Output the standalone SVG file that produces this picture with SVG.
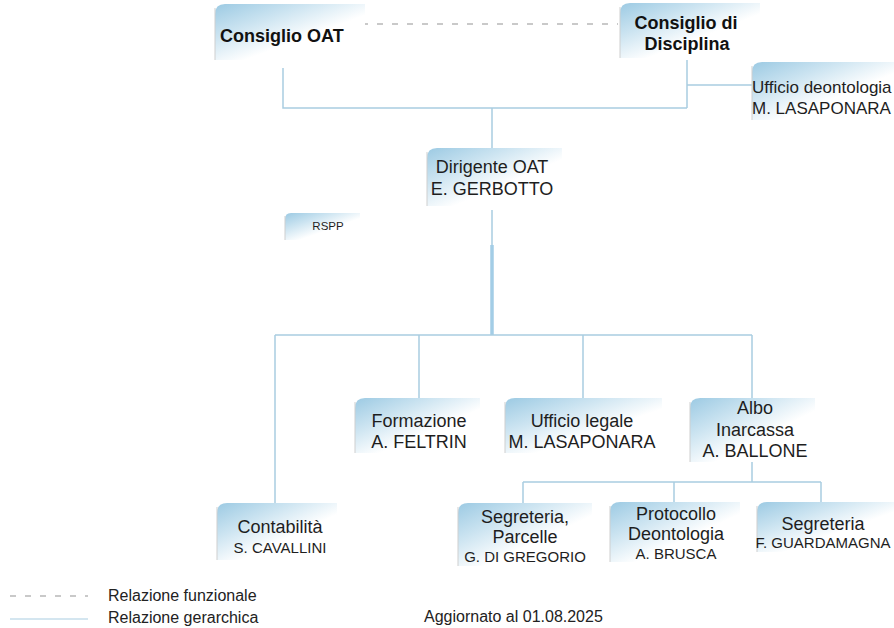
<svg xmlns="http://www.w3.org/2000/svg" width="894" height="628" viewBox="0 0 894 628">
<defs>
<linearGradient id="nodeFill" x1="0" y1="0" x2="1" y2="1">
<stop offset="0" stop-color="#9ccae3"/>
<stop offset="0.3" stop-color="#cce4f1"/>
<stop offset="0.6" stop-color="#ffffff"/>
</linearGradient>
<style>
.box{fill:url(#nodeFill);stroke:none}
.edge{stroke:#cfcfcf;stroke-width:1;fill:none}
.t{font-family:"Liberation Sans",Arial,sans-serif;font-size:18px;fill:#1e1e1e;text-anchor:middle}
.b{font-weight:bold;fill:#111}
.s{font-size:15px}
.conn{stroke:#a9cde1;stroke-width:1.5;fill:none}
.thick{stroke:#a3cde6;stroke-width:3.5;fill:none}
.func{stroke:#b8b8b8;stroke-width:1.3;stroke-dasharray:6 9;fill:none}
.leg{font-family:"Liberation Sans",Arial,sans-serif;font-size:16px;fill:#222}
</style>
</defs>
<rect width="894" height="628" fill="#ffffff"/>

<g id="connectors">
<line class="func" x1="347" y1="24" x2="618" y2="24"/>
<polyline class="conn" points="283,68 283,108 687,108"/>
<line class="conn" x1="687" y1="60" x2="687" y2="108"/>
<line class="conn" x1="687" y1="85" x2="752" y2="85"/>
<line class="conn" x1="492" y1="108" x2="492" y2="148"/>
<line class="conn" x1="492" y1="210" x2="492" y2="245"/>
<line class="thick" x1="492" y1="245" x2="492" y2="335"/>
<line class="conn" x1="275" y1="335" x2="752" y2="335"/>
<line class="conn" x1="275" y1="335" x2="275" y2="503"/>
<line class="conn" x1="419" y1="335" x2="419" y2="398"/>
<line class="conn" x1="583" y1="335" x2="583" y2="398"/>
<line class="conn" x1="752" y1="335" x2="752" y2="398"/>
<line class="conn" x1="752" y1="462" x2="752" y2="482"/>
<line class="conn" x1="523" y1="482" x2="821" y2="482"/>
<line class="conn" x1="523" y1="482" x2="523" y2="503"/>
<line class="conn" x1="674" y1="482" x2="674" y2="502"/>
<line class="conn" x1="821" y1="482" x2="821" y2="502"/>
</g>

<g id="consiglio-oat">
<path class="box" d="M215,14 Q215,4 225,4 H365 V60 H215 Z"/>
<line class="edge" x1="215" y1="8" x2="215" y2="60"/>
<text class="t b" x="220" y="42" text-anchor="start" style="text-anchor:start">Consiglio OAT</text>
</g>

<g id="consiglio-disciplina">
<path class="box" d="M620,13 Q620,3 630,3 H760 V58 H620 Z"/>
<line class="edge" x1="620" y1="7" x2="620" y2="58"/>
<text class="t b" x="686" y="29">Consiglio di</text>
<text class="t b" x="687" y="50">Disciplina</text>
</g>

<g id="ufficio-deontologia">
<path class="box" d="M752,72 Q752,62 762,62 H894 V120 H752 Z"/>
<line class="edge" x1="752" y1="66" x2="752" y2="120"/>
<text class="t" style="text-anchor:start;font-size:17px" x="752" y="93">Ufficio deontologia</text>
<text class="t" style="text-anchor:start;font-size:17px" x="752" y="114">M. LASAPONARA</text>
</g>

<g id="dirigente">
<path class="box" d="M427,158 Q427,148 437,148 H562 V206 H427 Z"/>
<line class="edge" x1="427" y1="152" x2="427" y2="206"/>
<text class="t" x="492" y="173">Dirigente OAT</text>
<text class="t" x="492" y="195">E. GERBOTTO</text>
</g>

<g id="rspp">
<path class="box" d="M285,219 Q285,213 291,213 H360 V240 H285 Z"/>
<line class="edge" x1="285" y1="216" x2="285" y2="240"/>
<text class="t" style="font-size:11.5px" x="328" y="230">RSPP</text>
</g>

<g id="formazione">
<path class="box" d="M355,408 Q355,398 365,398 H480 V453 H355 Z"/>
<line class="edge" x1="355" y1="402" x2="355" y2="453"/>
<text class="t" x="419" y="427">Formazione</text>
<text class="t" x="419" y="448">A. FELTRIN</text>
</g>

<g id="ufficio-legale">
<path class="box" d="M505,408 Q505,398 515,398 H662 V453 H505 Z"/>
<line class="edge" x1="505" y1="402" x2="505" y2="453"/>
<text class="t" x="582" y="427">Ufficio legale</text>
<text class="t" x="582" y="448">M. LASAPONARA</text>
</g>

<g id="albo">
<path class="box" d="M690,408 Q690,398 700,398 H815 V462 H690 Z"/>
<line class="edge" x1="690" y1="402" x2="690" y2="462"/>
<text class="t" x="755" y="414">Albo</text>
<text class="t" x="755" y="436">Inarcassa</text>
<text class="t" x="755" y="457">A. BALLONE</text>
</g>

<g id="contabilita">
<path class="box" d="M217,513 Q217,503 227,503 H337 V560 H217 Z"/>
<line class="edge" x1="217" y1="507" x2="217" y2="560"/>
<text class="t" x="280" y="533">Contabilità</text>
<text class="t s" x="280" y="553">S. CAVALLINI</text>
</g>

<g id="segreteria-parcelle">
<path class="box" d="M458,513 Q458,503 468,503 H592 V566 H458 Z"/>
<line class="edge" x1="458" y1="507" x2="458" y2="566"/>
<text class="t" x="525" y="523">Segreteria,</text>
<text class="t" x="525" y="543">Parcelle</text>
<text class="t s" x="525" y="562">G. DI GREGORIO</text>
</g>

<g id="protocollo">
<path class="box" d="M610,512 Q610,502 620,502 H740 V562 H610 Z"/>
<line class="edge" x1="610" y1="506" x2="610" y2="562"/>
<text class="t" x="676" y="520">Protocollo</text>
<text class="t" x="676" y="540">Deontologia</text>
<text class="t s" x="676" y="559">A. BRUSCA</text>
</g>

<g id="segreteria">
<path class="box" d="M757,512 Q757,502 767,502 H894 V552 H757 Z"/>
<line class="edge" x1="757" y1="506" x2="757" y2="552"/>
<text class="t" x="823" y="530">Segreteria</text>
<text class="t s" x="823" y="548">F. GUARDAMAGNA</text>
</g>

<g id="legend">
<line class="func" x1="10" y1="596" x2="88" y2="596"/>
<line class="conn" x1="10" y1="619" x2="88" y2="619" style="stroke-width:1"/>
<text class="leg" x="108" y="601">Relazione funzionale</text>
<text class="leg" x="108" y="623">Relazione gerarchica</text>
<text class="leg" x="424" y="622">Aggiornato al 01.08.2025</text>
</g>
</svg>
